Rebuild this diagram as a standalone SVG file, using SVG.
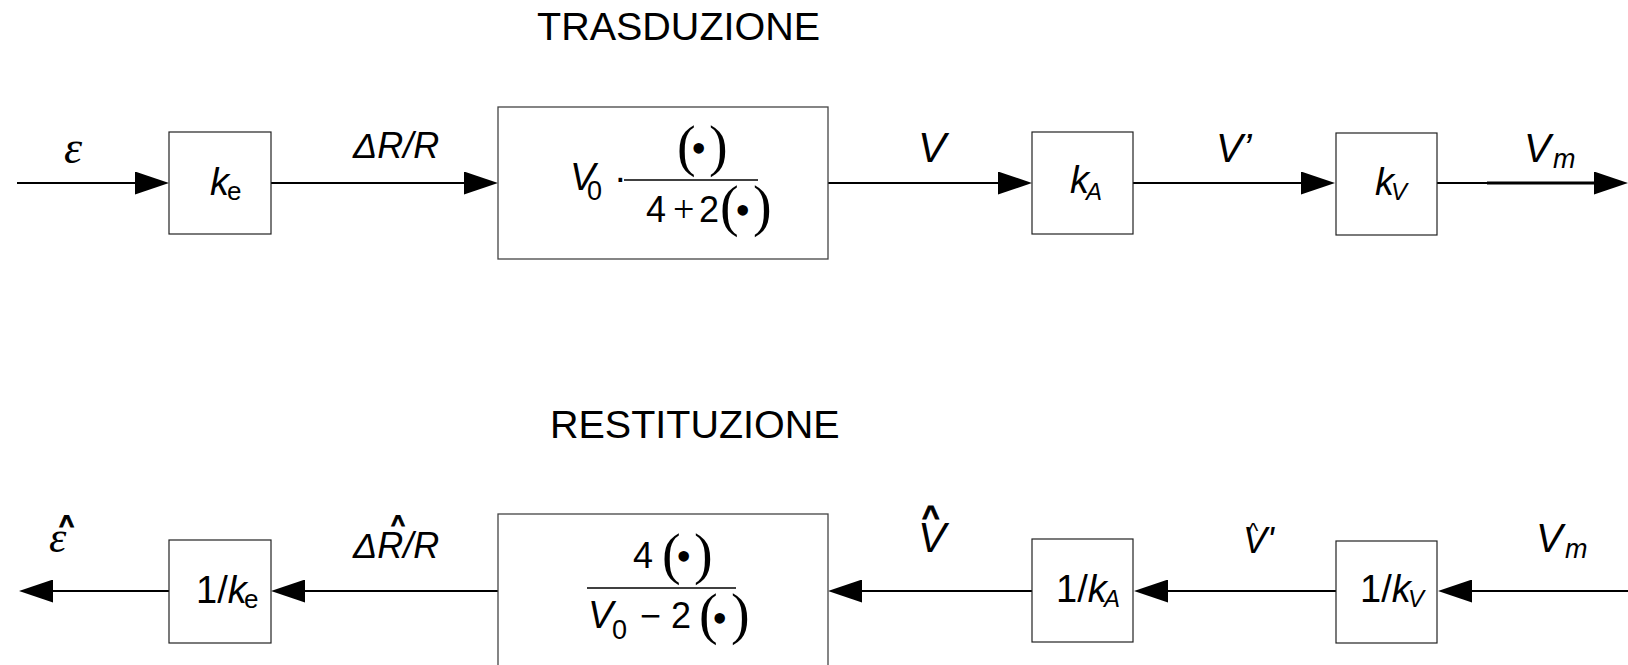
<svg xmlns="http://www.w3.org/2000/svg" width="1628" height="665" viewBox="0 0 1628 665">
<style>
.box{fill:#fff;stroke:#222;stroke-width:1.2}
.big{fill:#fff;stroke:#444;stroke-width:1.3}
.wire{fill:none;stroke:#000;stroke-width:2.2;marker-end:url(#ah)}
.t{font-family:"Liberation Sans",Arial,sans-serif;fill:#000}
.i{font-style:italic}
.s{font-family:"Liberation Serif","Times New Roman",serif;fill:#000}
.title{font-family:"Liberation Sans",Arial,sans-serif;font-size:39.5px;fill:#000}
.frac{stroke:#000;stroke-width:1.5}
.hat{font-family:"Liberation Sans",Arial,sans-serif;font-style:normal;font-weight:bold;stroke:#000;stroke-width:0.9}
</style>
<defs>
<marker id="ah" markerUnits="userSpaceOnUse" markerWidth="34" markerHeight="23" viewBox="0 0 34 23" refX="0" refY="11.5" orient="auto">
<path d="M0,0 L34,11.5 L0,23 z" fill="#000"/>
</marker>
</defs>

<text class="title" x="537" y="40">TRASDUZIONE</text>
<text class="title" x="550" y="438">RESTITUZIONE</text>

<g id="connectors">
<path class="wire" d="M17,183 H135"/>
<path class="wire" d="M271,183 H464"/>
<path class="wire" d="M828,183 H998"/>
<path class="wire" d="M1133,183 H1301"/>
<g><path class="wire" d="M1437,183 H1594"/><path d="M1487,183 H1596" stroke="#000" stroke-width="3.2"/></g>
<path class="wire" d="M169,591 H53"/>
<path class="wire" d="M498,591 H305"/>
<path class="wire" d="M1032,591 H862"/>
<path class="wire" d="M1336,591 H1168"/>
<path class="wire" d="M1628,591 H1472"/>
</g>

<g id="labels">
<text class="s i" x="64" y="163" font-size="46">ε</text>
<text class="t i" x="353" y="158" font-size="36">ΔR/R</text>
<text class="t i" x="918" y="162" font-size="42">V</text>
<text class="t i" x="1216" y="162" font-size="40">V’</text>
<text class="t i" x="1524" y="162" font-size="40">V<tspan x="1553" y="168" font-size="27">m</tspan></text>

<text class="s i" x="49" y="552" font-size="44">ε<tspan class="hat" x="59" y="534" font-size="26">^</tspan></text>
<text class="t i" x="353" y="558" font-size="36">ΔR/R<tspan class="hat" x="391" y="532" font-size="24">^</tspan></text>
<text class="t i" x="918" y="552" font-size="42">V<tspan class="hat" x="922" y="526" font-size="30">^</tspan></text>
<text class="t i" x="1243" y="553" font-size="36">V'<tspan font-style="normal" x="1248" y="538" font-size="22">^</tspan></text>
<text class="t i" x="1536" y="552" font-size="40">V<tspan x="1565" y="558" font-size="27">m</tspan></text>
</g>

<g id="ke">
<rect class="box" x="169" y="132" width="102" height="102"/>
<text class="t i" x="210" y="195" font-size="38">k<tspan font-style="normal" x="227" y="200" font-size="26">e</tspan></text>
</g>

<g id="transduction">
<rect class="big" x="498" y="107" width="330" height="152"/>
<text class="t i" x="570" y="190" font-size="38">V<tspan font-style="normal" x="587" y="200" font-size="27">0</tspan></text>
<text class="t" x="614" y="191" font-size="38">·</text>
<line class="frac" x1="624" y1="180" x2="758" y2="180"/>
<text class="s" font-size="56"><tspan x="677" y="165">(</tspan><tspan x="691" y="162.5" font-size="44">•</tspan><tspan x="709" y="165">)</tspan></text>
<text class="t" font-size="36"><tspan x="646" y="222">4</tspan><tspan class="s" x="673" y="222" font-size="38">+</tspan><tspan x="699" y="222">2</tspan></text>
<text class="s" font-size="56"><tspan x="720" y="225">(</tspan><tspan x="735" y="224.5" font-size="44">•</tspan><tspan x="753" y="225">)</tspan></text>
</g>

<g id="kA">
<rect class="box" x="1032" y="132" width="101" height="102"/>
<text class="t i" x="1070" y="193" font-size="38">k<tspan x="1086" y="200" font-size="24">A</tspan></text>
</g>

<g id="kV">
<rect class="box" x="1336" y="133" width="101" height="102"/>
<text class="t i" x="1375" y="195" font-size="38">k<tspan x="1391" y="200" font-size="24">V</tspan></text>
</g>

<g id="inv-ke">
<rect class="box" x="169" y="540" width="102" height="103"/>
<text class="t" x="196" y="603" font-size="38">1/<tspan font-style="italic">k</tspan><tspan x="244" y="608" font-size="26">e</tspan></text>
</g>

<g id="restitution">
<rect class="big" x="498" y="514" width="330" height="160"/>
<text class="t" x="633" y="568" font-size="36">4</text>
<text class="s" font-size="56"><tspan x="662" y="573">(</tspan><tspan x="676" y="570.5" font-size="44">•</tspan><tspan x="694" y="573">)</tspan></text>
<line class="frac" x1="587" y1="588" x2="736" y2="588"/>
<text class="t i" x="588" y="628" font-size="38">V<tspan font-style="normal" x="612" y="639" font-size="27">0</tspan></text>
<text class="t" font-size="36"><tspan x="640" y="628">−</tspan><tspan x="671" y="628">2</tspan></text>
<text class="s" font-size="56"><tspan x="699" y="633">(</tspan><tspan x="712" y="632.5" font-size="44">•</tspan><tspan x="731" y="633">)</tspan></text>
</g>

<g id="inv-kA">
<rect class="box" x="1032" y="539" width="101" height="103"/>
<text class="t" x="1056" y="602" font-size="38">1/<tspan font-style="italic">k</tspan><tspan font-style="italic" x="1104" y="607" font-size="24">A</tspan></text>
</g>

<g id="inv-kV">
<rect class="box" x="1336" y="541" width="101" height="102"/>
<text class="t" x="1360" y="602" font-size="38">1/<tspan font-style="italic">k</tspan><tspan font-style="italic" x="1408" y="607" font-size="24">V</tspan></text>
</g>
</svg>
